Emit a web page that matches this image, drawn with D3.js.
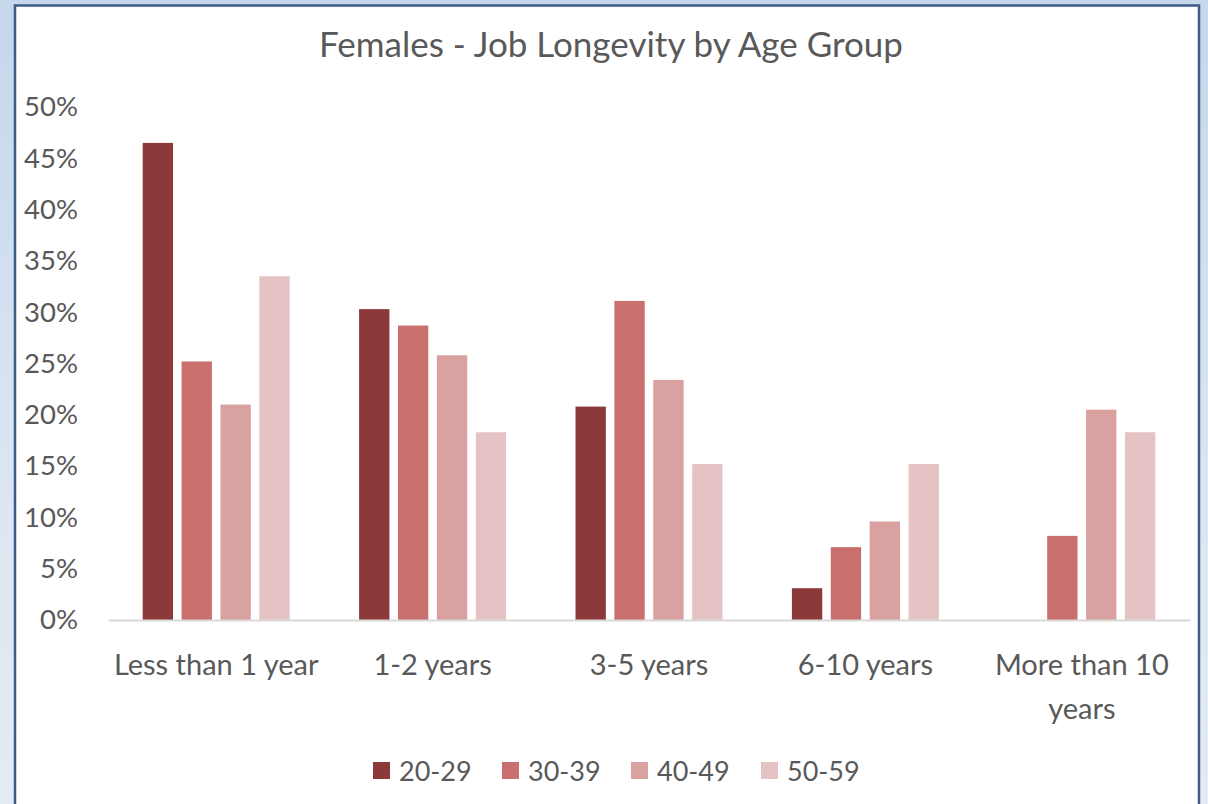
<!DOCTYPE html>
<html>
<head>
<meta charset="utf-8">
<script src="https://cdn.jsdelivr.net/npm/d3@7"></script>
<style>
  html, body { margin: 0; padding: 0; }
  body {
    width: 1208px; height: 804px; overflow: hidden;
    background: linear-gradient(180deg, #c4d7eb 0%, #dbe6f2 60%, #e3ecf5 100%);
  }
  svg { display: block; }
  text { font-family: Lato, "Open Sans", sans-serif; fill: #595959; }
</style>
</head>
<body>
<script>
/*
 * Clustered bar chart: female job longevity by age group.
 */

const WIDTH = 1208;
const HEIGHT = 804;

const categories = ['Less than 1 year', '1-2 years', '3-5 years', '6-10 years', 'More than 10 years'];
const ageGroups = ['20-29', '30-39', '40-49', '50-59'];
const colors = ['#8b3a39', '#c9706e', '#d9a1a0', '#e5c3c4'];

// percent values, one array per age group (same order as categories)
const v2029 = [46.5, 30.3, 20.8, 3.1, 0];
const v3039 = [25.2, 28.7, 31.1, 7.1, 8.2];
const v4049 = [21.0, 25.8, 23.4, 9.6, 20.5];
const v5059 = [33.5, 18.3, 15.2, 15.2, 18.3];
const series = [v2029, v3039, v4049, v5059];

const yTicks = [0, 5, 10, 15, 20, 25, 30, 35, 40, 45, 50];

const PLOT_LEFT = 108;
const PLOT_RIGHT = 1190;
const PLOT_TOP = 107;
const PLOT_BOT = 620;

const svg = d3.select('body')
  .append('svg')
    .attr('width', WIDTH)
    .attr('height', HEIGHT);

// chart frame
svg.append('rect')
    .attr('x', 15)
    .attr('y', 5.5)
    .attr('width', 1184)
    .attr('height', 820)
    .attr('fill', '#ffffff')
    .attr('stroke', '#3e5a87')
    .attr('stroke-width', 2.5);

// title
svg.append('text')
    .attr('x', 611)
    .attr('y', 57)
    .attr('text-anchor', 'middle')
    .style('font-size', '35px')
    .text('Females - Job Longevity by Age Group');

// scales
const x0 = d3.scaleBand()
    .domain(categories)
    .range([PLOT_LEFT, PLOT_RIGHT]);

const x1 = d3.scaleBand()
    .domain(ageGroups)
    .range([0, 147])
    .paddingInner(0.22);

const y = d3.scaleLinear()
    .domain([0, 50])
    .range([PLOT_BOT, PLOT_TOP]);

// y axis labels (no line, no ticks)
const yAxis = d3.axisLeft(y)
    .tickValues(yTicks)
    .tickSize(0)
    .tickPadding(0)
    .tickFormat(d => d + '%');

const yG = svg.append('g')
    .attr('transform', 'translate(78, 0)')
    .call(yAxis);
yG.select('.domain').remove();
yG.selectAll('text')
    .style('font-size', '27.5px')
    .style('font-family', 'Lato, "Open Sans", sans-serif')
    .attr('fill', '#595959');

// bars
const groups = svg.append('g')
  .selectAll('g')
  .data(categories)
  .enter()
  .append('g')
    .attr('transform', d => `translate(${x0(d) + (x0.bandwidth() - 147) / 2}, 0)`);

groups.selectAll('rect')
  .data((d, i) => ageGroups.map((g, j) => ({ group: g, value: series[j][i], color: colors[j] })))
  .enter()
  .append('rect')
    .attr('x', d => x1(d.group))
    .attr('y', d => y(d.value))
    .attr('width', x1.bandwidth())
    .attr('height', d => PLOT_BOT - y(d.value))
    .attr('fill', d => d.color);

// x axis
const xAxis = d3.axisBottom(x0)
    .tickSize(0)
    .tickPadding(0);

const xG = svg.append('g')
    .attr('transform', `translate(0, ${PLOT_BOT})`)
    .call(xAxis);
xG.select('.domain')
    .attr('stroke', '#d9d9d9')
    .attr('stroke-width', 2);
xG.selectAll('text').remove();

// category labels, wrapping the long one
xG.selectAll('.tick')
  .append('text')
    .attr('text-anchor', 'middle')
    .style('font-size', '29px')
    .attr('fill', '#595959')
    .each(function (d) {
      const lines = d === 'More than 10 years' ? ['More than 10', 'years'] : [d];
      d3.select(this).selectAll('tspan')
        .data(lines)
        .enter()
        .append('tspan')
          .attr('x', 0)
          .attr('y', (l, i) => 55 + i * 44)
          .text(l => l);
    });

// legend
const legendX = [373, 502, 631, 761];
const legend = svg.append('g')
  .selectAll('g')
  .data(ageGroups)
  .enter()
  .append('g')
    .attr('transform', (d, i) => `translate(${legendX[i]}, 762)`);

legend.append('rect')
    .attr('width', 17)
    .attr('height', 17)
    .attr('fill', (d, i) => colors[i]);

legend.append('text')
    .attr('x', 26)
    .attr('y', 19)
    .style('font-size', '27px')
    .text(d => d);
</script>
</body>
</html>
